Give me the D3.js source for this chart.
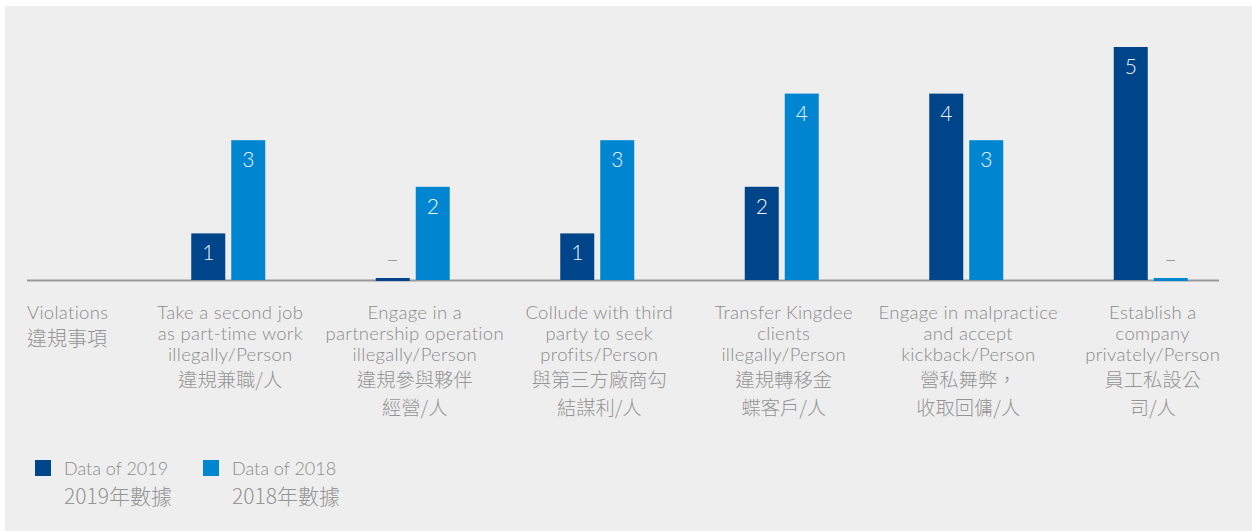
<!DOCTYPE html>
<html><head><meta charset="utf-8">
<script src="https://cdn.jsdelivr.net/npm/d3@7"></script>
<style>
html,body{margin:0;padding:0;background:#fff;}
svg{display:block;}
</style></head>
<body>
<svg id="chart" width="1252" height="531"></svg>
<script>
const categoriesEn = [
  ["Take a second job","as part-time work","illegally/Person"],
  ["Engage in a","partnership operation","illegally/Person"],
  ["Collude with third","party to seek","profits/Person"],
  ["Transfer Kingdee","clients","illegally/Person"],
  ["Engage in malpractice","and accept","kickback/Person"],
  ["Establish a","company","privately/Person"]
];
const categoriesZh = [
  ["違規兼職/人"],
  ["違規參與夥伴","經營/人"],
  ["與第三方廠商勾","結謀利/人"],
  ["違規轉移金","蝶客戶/人"],
  ["營私舞弊，","收取回傭/人"],
  ["員工私設公","司/人"]
];
const values2019 = [1, 0, 1, 2, 4, 5];
const values2018 = [3, 2, 3, 4, 3, 0];
const seriesNames = ["Data of 2019", "Data of 2018"];
const seriesNamesZh = ["2019年數據", "2018年數據"];
const headerEn = "Violations";
const headerZh = "違規事項";

const colors = ["#004589", "#0086d1"];
const textGrey = "#8c8c8c";
const zhGrey = "#959595";
const enFont = "Lato, 'Open Sans', sans-serif";
const zhFont = "'Noto Sans CJK TC', 'Noto Sans CJK SC', sans-serif";

const svg = d3.select("#chart");
svg.append("rect").attr("x",5).attr("y",6).attr("width",1247).attr("height",525).attr("fill","#eeeeee");

const baseline = 280;
const idx = d3.range(categoriesEn.length);
const x0 = d3.scaleBand().domain(idx).range([136, 1243]).padding(0);
const x1 = d3.scaleBand().domain([0,1]).range([-37, 37]).paddingInner(0.15).paddingOuter(0);
const y = d3.scaleLinear().domain([0, 5]).range([baseline, 47]);

// axis line
svg.append("line").attr("x1",27).attr("x2",1219).attr("y1",baseline+0.5).attr("y2",baseline+0.5)
  .attr("stroke","#999").attr("stroke-width",2);

const data = [];
idx.forEach(i => {
  data.push({i, s:0, v:values2019[i]});
  data.push({i, s:1, v:values2018[i]});
});

const g = svg.append("g");
g.selectAll("rect.bar").data(data).join("rect")
  .attr("class","bar")
  .attr("x", d => x0(d.i) + x0.bandwidth()/2 + x1(d.s))
  .attr("width", x1.bandwidth())
  .attr("y", d => d.v > 0 ? y(d.v) : baseline - 2)
  .attr("height", d => d.v > 0 ? baseline - y(d.v) : 3)
  .attr("fill", d => colors[d.s]);

g.selectAll("text.val").data(data).join("text")
  .attr("class","val")
  .attr("x", d => x0(d.i) + x0.bandwidth()/2 + x1(d.s) + x1.bandwidth()/2)
  .attr("y", d => d.v > 0 ? y(d.v) + 27 : baseline - 13)
  .attr("text-anchor","middle")
  .attr("font-family", enFont)
  .attr("font-weight", 300)
  .attr("font-size", d => d.v > 0 ? 21 : 22)
  .attr("fill", d => d.v > 0 ? "#eef3f8" : "#9a9a9a")
  .text(d => d.v > 0 ? d.v : "–");

// category labels
const enLineY = [319, 340, 361];
idx.forEach(i => {
  const cx = x0(i) + x0.bandwidth()/2 + 2;
  const en = categoriesEn[i];
  en.forEach((t, k) => {
    svg.append("text").attr("x", cx).attr("y", enLineY[k])
      .attr("text-anchor","middle").attr("font-family", enFont).attr("font-weight",300)
      .attr("font-size",18.5).attr("letter-spacing",0.3).attr("fill",textGrey).text(t);
  });
  categoriesZh[i].forEach((t, k) => {
    svg.append("text").attr("x", cx).attr("y", 387 + k*28)
      .attr("text-anchor","middle").attr("font-family", zhFont).attr("font-weight",300)
      .attr("font-size",19.3).attr("fill",zhGrey).text(t);
  });
});

svg.append("text").attr("x",27).attr("y",319).attr("font-family",enFont).attr("font-weight",300)
  .attr("font-size",18.5).attr("letter-spacing",0.3).attr("fill",textGrey).text(headerEn);
svg.append("text").attr("x",27).attr("y",346).attr("font-family",zhFont).attr("font-weight",300)
  .attr("font-size",20).attr("fill",zhGrey).text(headerZh);

// legend
const legX = [35, 203];
seriesNames.forEach((n, k) => {
  svg.append("rect").attr("x",legX[k]).attr("y",460).attr("width",16).attr("height",16).attr("fill",colors[k]);
  svg.append("text").attr("x",legX[k]+29).attr("y",475).attr("font-family",enFont).attr("font-weight",300)
    .attr("font-size",18).attr("fill",textGrey).text(n);
  svg.append("text").attr("x",legX[k]+29).attr("y",504).attr("font-family",zhFont).attr("font-weight",300)
    .attr("font-size",21).attr("fill",zhGrey).text(seriesNamesZh[k]);
});
</script>
</body></html>
